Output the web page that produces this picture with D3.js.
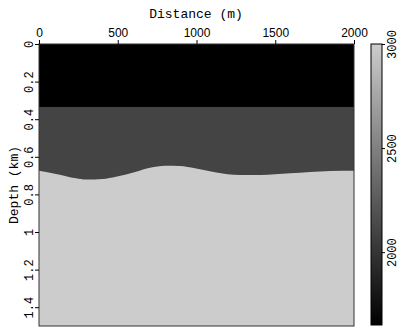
<!DOCTYPE html>
<html><head><meta charset="utf-8">
<script src="https://cdn.jsdelivr.net/npm/d3@7"></script>
<style>body{margin:0;background:#fff}svg{display:block}text{font-family:"Liberation Mono","DejaVu Sans Mono",monospace;fill:#000}</style>
</head><body><svg id="c" width="399" height="330"></svg>
<script>
// Data
const distanceTicks = [0, 500, 1000, 1500, 2000];
const depthTicks = [0, 0.2, 0.4, 0.6, 0.8, 1, 1.2, 1.4];
const colorTicks = [2000, 2500, 3000];
const boundaryDistance = [0, 108, 235, 298, 404, 489, 616, 705, 800, 895, 990, 1117, 1276, 1403, 1594, 1848, 2000];
const boundaryDepth = [0.674, 0.691, 0.714, 0.721, 0.718, 0.706, 0.679, 0.658, 0.647, 0.649, 0.661, 0.682, 0.697, 0.697, 0.688, 0.676, 0.674];
const layerInterface1 = 0.335;
const layerVelocity = [1650, 2100, 3000];
const velocityRange = [1650, 3000];

const svg = d3.select("#c");
const x = d3.scaleLinear().domain([0, 2000]).range([39, 354]);
const y = d3.scaleLinear().domain([0, 1.5]).range([44, 326]);
const color = d3.scaleLinear().domain(velocityRange).range(["#000000", "#cccccc"]).interpolate(d3.interpolateRgb);

const pts = boundaryDistance.map((d, i) => [d, boundaryDepth[i]]);

// layers
svg.append("rect").attr("x", x(0)).attr("y", y(0)).attr("width", x(2000) - x(0)).attr("height", y(1.5) - y(0)).attr("fill", color(layerVelocity[2]));
svg.append("path").datum(pts)
  .attr("d", d3.area().x(d => x(d[0])).y0(y(layerInterface1)).y1(d => y(d[1])).curve(d3.curveMonotoneX))
  .attr("fill", color(layerVelocity[1]));
svg.append("rect").attr("x", x(0)).attr("y", y(0)).attr("width", x(2000) - x(0)).attr("height", y(layerInterface1) - y(0)).attr("fill", color(layerVelocity[0]));
svg.append("rect").attr("x", x(0)).attr("y", y(0)).attr("width", x(2000) - x(0)).attr("height", y(1.5) - y(0))
  .attr("fill", "none").attr("stroke", "#333").attr("stroke-width", 1);

// top axis
const xa = svg.append("g").attr("transform", `translate(0,${y(0)})`)
  .call(d3.axisTop(x).tickValues(distanceTicks).tickSize(4).tickPadding(3).tickFormat(d3.format("d")));
xa.select(".domain").remove();
xa.selectAll("text").attr("font-size", 12).style("font-family", "inherit");
svg.append("text").attr("x", 196).attr("y", 18).attr("text-anchor", "middle").attr("font-size", 13).text("Distance (m)");

// left axis
const ya = svg.append("g").attr("transform", `translate(${x(0)},0)`)
  .call(d3.axisLeft(y).tickValues(depthTicks).tickSize(4).tickFormat(d => d3.format("~g")(d)));
ya.select(".domain").remove();
ya.selectAll("text").attr("font-size", 12).attr("transform", null).text(null);
ya.selectAll(".tick").append("text").attr("transform", "translate(-6,0) rotate(-90)")
  .attr("text-anchor", "middle").attr("dy", "0em").attr("font-size", 12)
  .text(d => d3.format("~g")(d));
svg.append("text").attr("transform", `translate(18,${y(0.75)}) rotate(-90)`).attr("text-anchor", "middle").attr("font-size", 13).text("Depth (km)");

// colorbar
const cb = d3.scaleLinear().domain(velocityRange).range([325, 44]);
const defs = svg.append("defs");
const grad = defs.append("linearGradient").attr("id", "g").attr("x1", 0).attr("y1", 1).attr("x2", 0).attr("y2", 0);
grad.append("stop").attr("offset", 0).attr("stop-color", color(velocityRange[0]));
grad.append("stop").attr("offset", 1).attr("stop-color", color(velocityRange[1]));
svg.append("rect").attr("x", 371).attr("y", cb(velocityRange[1])).attr("width", 11).attr("height", cb(velocityRange[0]) - cb(velocityRange[1]))
  .attr("fill", "url(#g)").attr("stroke", "#000").attr("stroke-width", 1);
const ca = svg.append("g").attr("transform", "translate(382,0)")
  .call(d3.axisRight(cb).tickValues(colorTicks).tickSize(3).tickFormat(""));
ca.select(".domain").remove();
ca.selectAll(".tick").append("text").attr("transform", "translate(14,0) rotate(-90)")
  .attr("text-anchor", "middle").attr("font-size", 12).text(d => d);
</script></body></html>
